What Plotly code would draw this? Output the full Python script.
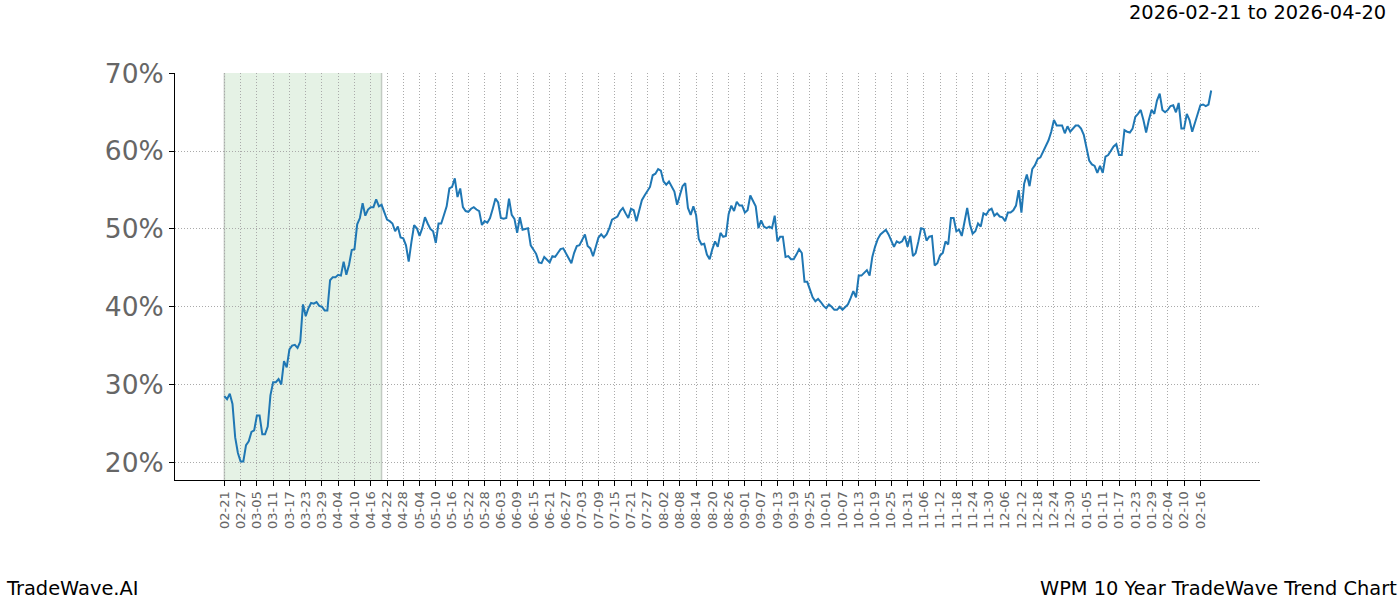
import pandas as pd
import plotly.graph_objects as go

# ---- data (percent values, one per calendar day starting 2025-02-21) ----
start_date = "2025-02-21"
vals_feb_apr = [
    28.5, 28.1, 28.8, 27.5, 23.2, 21.2, 20.1, 20.1, 22.2, 22.7,
    23.9, 24.1, 26.0, 26.0, 23.6, 23.6, 24.6, 28.6, 30.3, 30.3,
    30.7, 30.0, 33.0, 32.2, 34.5, 35.0, 35.1, 34.7, 35.5, 40.3,
    38.8, 39.8, 40.5, 40.4, 40.6, 40.1, 40.0, 39.5, 39.5, 43.4,
    43.8, 43.8, 44.1, 44.0, 45.8, 44.1, 45.4, 47.3, 47.4, 50.6,
    51.4, 53.3, 51.7, 52.5, 52.8, 52.8, 53.8, 52.9, 53.1, 52.1,
    51.2,
]
vals_apr_jun = [
    51.0, 50.7, 49.7, 50.3, 48.9, 48.8, 47.9, 45.8, 48.3, 50.5,
    50.1, 49.1, 50.1, 51.5, 50.7, 50.0, 49.7, 48.2, 50.7, 50.7,
    51.8, 52.9, 55.2, 55.4, 56.5, 54.1, 55.2, 52.8, 52.3, 52.2,
    52.6, 52.8, 52.5, 52.3, 50.5, 51.0, 50.8, 51.4, 52.6, 53.9,
    53.4, 51.4, 51.3, 51.4, 53.9, 51.8, 51.3, 49.5, 51.5, 49.9,
    50.0, 50.1, 47.9, 47.3, 46.8, 45.7, 45.6, 46.4, 46.0, 45.7,
    46.5,
]
vals_jun_aug = [
    46.4, 46.9, 47.4, 47.5, 46.9, 46.3, 45.6, 46.9, 47.8,
    47.9, 48.6, 49.3, 47.8, 47.5, 46.5, 47.6, 48.9, 49.3, 48.9,
    49.3, 50.1, 51.2, 51.4, 51.6, 52.3, 52.7, 52.0, 51.4, 52.6,
    52.4, 51.0, 52.5, 53.7, 54.3, 54.8, 55.4, 56.9, 57.1, 57.7,
    57.5, 56.1, 55.7, 56.1, 55.4, 54.8, 53.1, 54.2, 55.5, 55.9,
    52.7, 51.8, 52.9, 51.8, 48.7, 48.0, 48.1, 46.7, 46.1, 47.4,
    48.4, 47.7,
]
vals_aug_oct = [
    49.5, 49.0, 49.1, 51.9, 53.0, 52.3, 53.5, 53.0,
    53.0, 52.1, 52.4, 54.3, 53.5, 52.9, 50.1, 51.1, 50.3, 50.1,
    50.3, 50.1, 51.7, 48.4, 49.0, 49.0, 46.4, 46.5, 46.1, 46.1,
    46.7, 47.4, 46.9, 43.2, 43.2, 42.3, 41.2, 40.7, 41.0, 40.6,
    40.1, 39.8, 40.3, 40.0, 39.6, 39.6, 40.0, 39.6, 39.9, 40.3,
    41.1, 42.0, 41.2, 44.0, 44.0, 44.3, 44.7, 44.0, 46.4, 47.7,
    48.7, 49.3,
]
vals_oct_dec = [
    49.6, 49.9, 49.3, 48.6, 47.7, 48.4, 48.2, 48.4,
    49.1, 47.7, 49.1, 46.5, 46.9, 48.4, 50.1, 50.0, 48.5, 49.0,
    49.1, 45.3, 45.6, 46.6, 46.9, 48.4, 48.0, 51.4, 51.4, 49.7,
    49.9, 49.1, 51.0, 52.7, 50.6, 49.4, 49.7, 50.7, 50.3, 52.0,
    51.8, 52.4, 52.6, 51.7, 52.0, 51.6, 51.5, 51.0, 52.1, 52.1,
    52.4, 53.0, 55.0, 52.1, 55.8, 57.0, 55.5, 57.7, 58.2, 59.0,
    59.2, 59.9,
]
vals_dec_feb = [
    60.8, 61.4, 62.5, 64.0, 63.3, 63.3, 63.3, 62.3, 63.2, 62.5,
    62.9, 63.3, 63.3, 62.9, 62.1, 60.3, 58.8, 58.3, 58.1, 57.2,
    58.1, 57.2, 59.3, 59.5, 60.0, 60.6, 60.9, 59.5, 59.5, 62.7,
    62.5, 62.4, 62.9, 64.4, 64.8, 65.3, 64.0, 62.4, 64.0, 65.3,
    64.8, 66.5, 67.4, 65.3, 65.0, 65.3, 65.8, 65.9, 65.0, 66.2,
    62.9, 62.9, 64.8, 64.0, 62.5, 63.6, 64.8, 65.9, 66.0, 65.8,
    66.0, 67.8,
]
values = vals_feb_apr + vals_apr_jun + vals_jun_aug + vals_aug_oct + vals_oct_dec + vals_dec_feb

y_ticks = [20, 30, 40, 50, 60, 70]
y_tick_labels = ["20%", "30%", "40%", "50%", "60%", "70%"]
shade_start = "2025-02-21"
shade_end = "2025-04-20"
title_text = "2026-02-21 to 2026-04-20"
footer_left = "TradeWave.AI"
footer_right = "WPM 10 Year TradeWave Trend Chart"

dates = pd.date_range(start_date, periods=len(values), freq="D")
tick_dates = pd.date_range("2025-02-21", "2026-02-16", freq="6D")
tick_labels = [d.strftime("%m-%d") for d in tick_dates]

t0 = pd.Timestamp(start_date)
x_range = [t0 - pd.Timedelta(days=18.2), t0 + pd.Timedelta(days=382)]

fig = go.Figure()
fig.add_trace(go.Scatter(x=dates, y=values, mode="lines",
                         line=dict(color="#1f77b4", width=2), showlegend=False))

fig.add_shape(type="rect", xref="x", yref="paper", x0=shade_start, x1=shade_end,
              y0=0, y1=1, fillcolor="rgba(0,128,0,0.1)",
              line=dict(width=0), layer="below")
for edge in (shade_start, shade_end):
    fig.add_shape(type="line", xref="x", yref="paper", x0=edge, x1=edge, y0=0, y1=1,
                  line=dict(color="rgba(110,120,110,0.35)", width=1.5), layer="below")

grey = "#666666"
grid_kw = dict(showgrid=True, gridcolor="#aaaaaa", griddash="1px,2px", gridwidth=0.8,
               zeroline=False)
fig.update_xaxes(type="date", range=x_range, tickmode="array", tickvals=tick_dates,
                 ticktext=tick_labels, tickangle=-90,
                 tickfont=dict(family="DejaVu Sans", size=13, color=grey),
                 ticks="outside", ticklen=5, tickcolor="black",
                 showline=True, linecolor="black", linewidth=1, **grid_kw)
fig.update_yaxes(range=[17.72, 70.05], tickmode="array", tickvals=y_ticks,
                 ticktext=y_tick_labels,
                 tickfont=dict(family="DejaVu Sans", size=26.5, color=grey),
                 ticks="outside", ticklen=5, tickcolor="black",
                 showline=True, linecolor="black", linewidth=1, **grid_kw)

fig.add_annotation(text=title_text, xref="paper", yref="paper",
                   x=(1388 - 175) / 1085, y=(480 - 12) / 407, xanchor="right", yanchor="middle",
                   showarrow=False, font=dict(family="DejaVu Sans", size=19.4, color="black"))
fig.add_annotation(text=footer_left, xref="paper", yref="paper",
                   x=(4 - 175) / 1085, y=(480 - 588) / 407, xanchor="left", yanchor="middle",
                   showarrow=False, font=dict(family="DejaVu Sans", size=19.4, color="black"))
fig.add_annotation(text=footer_right, xref="paper", yref="paper",
                   x=(1399 - 175) / 1085, y=(480 - 588) / 407, xanchor="right", yanchor="middle",
                   showarrow=False, font=dict(family="DejaVu Sans", size=19.4, color="black"))

fig.update_layout(width=1400, height=600,
                  margin=dict(l=175, r=140, t=73, b=120),
                  paper_bgcolor="white", plot_bgcolor="white",
                  font=dict(family="DejaVu Sans"))

fig.write_html("out.html", config={"displayModeBar": False},
               post_script="document.body.style.margin='0';document.body.style.overflow='hidden';")
